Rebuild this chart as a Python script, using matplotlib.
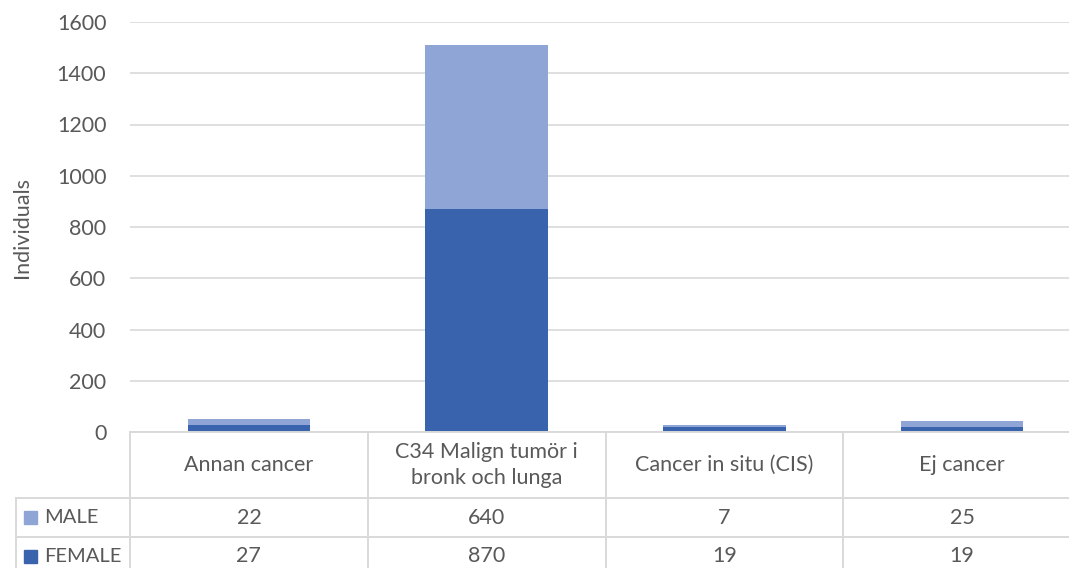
import matplotlib
matplotlib.use("Agg")
import matplotlib.pyplot as plt
from matplotlib.patches import Rectangle

categories = ["Annan cancer", "C34 Malign tumör i\nbronk och lunga", "Cancer in situ (CIS)", "Ej cancer"]
series_names = ["MALE", "FEMALE"]
male = [22, 640, 7, 25]
female = [27, 870, 19, 19]
yticks = [0, 200, 400, 600, 800, 1000, 1200, 1400, 1600]

C_MALE = "#8FA5D6"
C_FEMALE = "#3A63AD"
GRID = "#D9D9D9"
TXT = "#595959"
FS = 15.5

plt.rcParams['font.family'] = ['Lato', 'DejaVu Sans']
W, H = 1069, 568
fig = plt.figure(figsize=(W / 100, H / 100), dpi=100)

L, R, T, B = 130, 1081, 22, 432
ax = fig.add_axes([L / W, 1 - B / H, (R - L) / W, (B - T) / H])
n = len(categories)
x = list(range(n))
ax.bar(x, female, width=0.515, color=C_FEMALE, zorder=3)
ax.bar(x, male, width=0.515, bottom=female, color=C_MALE, zorder=3)
ax.set_xlim(-0.5, n - 0.5)
ax.set_ylim(0, 1600)
ax.set_yticks(yticks)
ax.set_yticklabels([str(v) for v in yticks], fontsize=FS, color=TXT)
ax.tick_params(axis='y', length=0, pad=17)
ax.set_xticks([])
for s in ax.spines.values():
    s.set_visible(False)
ax.yaxis.grid(True, color=GRID, linewidth=1.2, zorder=0)

# data table and labels in pixel space
tx = fig.add_axes([0, 0, 1, 1])
tx.set_xlim(0, W)
tx.set_ylim(H, 0)
tx.axis('off')
tx.text(22, (T + B) / 2, "Individuals", rotation=90, ha='center', va='center',
        fontsize=FS, color=TXT)
colw = (R - L) / n
bounds = [L + k * colw for k in range(n + 1)]
y_top, y_h, y_m, y_f = 432, 498, 537, 576
lw = 1.4
tx.plot([L, R], [y_top, y_top], color=GRID, lw=lw)
for yy in (y_h, y_m, y_f):
    tx.plot([16, R], [yy, yy], color=GRID, lw=lw)
for k, bx in enumerate(bounds):
    tx.plot([bx, bx], [y_top, y_f], color=GRID, lw=lw)
tx.plot([16, 16], [y_h, y_f], color=GRID, lw=lw)

for k, c in enumerate(categories):
    cx = (bounds[k] + bounds[k + 1]) / 2
    tx.text(cx, (y_top + y_h) / 2, c, ha='center', va='center', fontsize=FS,
            color=TXT, linespacing=1.35)
rows = [(male, C_MALE, "MALE", y_h, y_m), (female, C_FEMALE, "FEMALE", y_m, y_f)]
for vals, col, name, y0, y1 in rows:
    cy = (y0 + y1) / 2
    tx.add_patch(Rectangle((24, cy - 6.5), 13, 13, color=col))
    tx.text(44, cy, name, ha='left', va='center', fontsize=14.5, color=TXT)
    for k, v in enumerate(vals):
        cx = (bounds[k] + bounds[k + 1]) / 2
        tx.text(cx, cy, str(v), ha='center', va='center', fontsize=FS, color=TXT)

fig.savefig("out.png", dpi=100)
